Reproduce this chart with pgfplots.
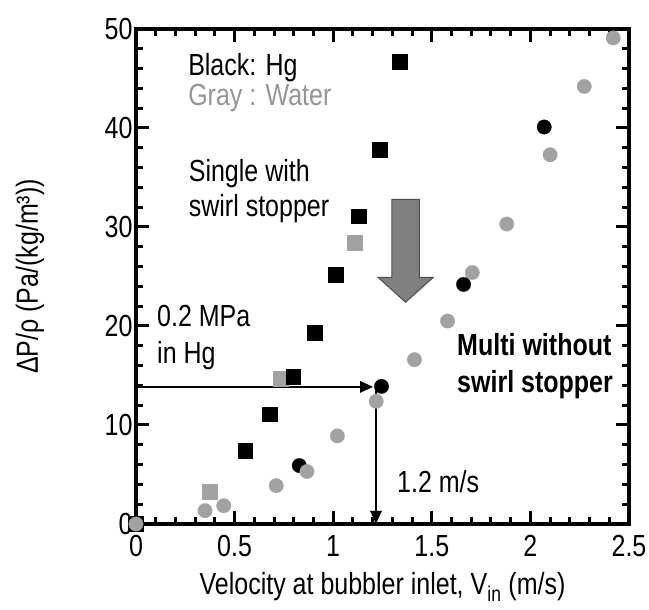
\documentclass[border=0pt]{standalone}
\usepackage{fontspec}
\setmainfont{Liberation Sans}[FakeStretch=0.82]
\usepackage{pgfplots}
\pgfplotsset{compat=1.18}
\usetikzlibrary{arrows.meta}
\definecolor{markgray}{RGB}{162,162,162}
\definecolor{textgray}{RGB}{150,150,150}
\definecolor{arrowfill}{RGB}{128,128,128}
\newcommand{\lbl}{\fontsize{30.5}{36}\selectfont}

\begin{document}
\begin{tikzpicture}
\begin{axis}[
  name=ax,
  scale only axis, width=493pt, height=495pt,
  xmin=0, xmax=2.5, ymin=0, ymax=50,
  xtick={0,0.5,1,1.5,2,2.5}, xticklabels={0,0.5,1,1.5,2,2.5},
  ytick={0,10,20,30,40,50}, yticklabels={0,10,20,30,40,50},
  minor x tick num=4, minor y tick num=4,
  tick align=inside,
  major tick length=13pt, minor tick length=7pt,
  every tick/.style={line width=3pt, black},
  axis line style={line width=4pt},
  /pgf/number format/assume math mode=true,
  ticklabel style={font=\lbl},
  xticklabel style={yshift=-8pt},
  every axis x label/.style={at={(axis description cs:0.5,0)}, anchor=base, yshift=-71pt, font=\lbl},
  every axis y label/.style={at={(axis description cs:-0.215,0.5)}, anchor=center, rotate=90, font=\lbl},
  xlabel={Velocity at bubbler inlet, V\textsubscript{in} (m/s)},
  ylabel={ΔP/ρ (Pa/(kg/m³))},
  clip=false,
]

% Water, single with swirl stopper
\addplot[only marks, mark=square*, mark size=7.4pt, mark options={fill=markgray, draw=markgray, line width=0.3pt}]
  coordinates {(0.372,3.3) (0.735,14.7) (1.107,28.45)};

% Hg, single with swirl stopper
\addplot[only marks, mark=square*, mark size=7.4pt, mark options={fill=black, draw=black, line width=0.3pt}]
  coordinates {(0,0) (0.554,7.4) (0.676,11.1) (0.797,14.85) (0.906,19.3) (1.014,25.2) (1.131,31.1) (1.237,37.8) (1.339,46.7)};

% Water, multi without swirl stopper
\addplot[only marks, mark=*, mark size=7.2pt, mark options={fill=markgray, draw=markgray, line width=0.3pt}]
  coordinates {(0,0) (0.35,1.35) (0.445,1.85) (0.711,3.87) (1.021,8.9) (1.218,12.4) (1.412,16.6) (1.58,20.5) (1.705,25.4) (1.88,30.3) (2.10,37.3) (2.273,44.2) (2.42,49.1)};

% Hg, multi without swirl stopper
\addplot[only marks, mark=*, mark size=7.2pt, mark options={fill=black, draw=black, line width=0.3pt}]
  coordinates {(0.828,5.9) (1.245,13.9) (1.661,24.2) (2.07,40.1)};

\addplot[only marks, mark=*, mark size=7.2pt, mark options={fill=markgray, draw=markgray, line width=0.3pt}]
  coordinates {(0.867,5.3)};

% annotations
\draw[-{Triangle[length=13pt,width=11pt]}, line width=2.5pt] (axis cs:0,13.85) -- (axis cs:1.203,13.85);
\draw[-{Triangle[length=13pt,width=11pt]}, line width=2.5pt] (axis cs:1.217,13.85) -- (axis cs:1.217,0);

\filldraw[fill=arrowfill, draw=black!70, line width=1pt]
  (axis cs:1.297,32.8) -- (axis cs:1.437,32.8) -- (axis cs:1.437,24.9) -- (axis cs:1.507,24.9)
  -- (axis cs:1.367,22.4) -- (axis cs:1.228,24.9) -- (axis cs:1.297,24.9) -- cycle;

\node[anchor=base west, inner sep=0, font=\lbl] at (axis cs:0.264,45.35) {Black: Hg};
\node[anchor=base west, inner sep=0, font=\lbl, text=textgray] at (axis cs:0.264,42.32) {Gray : Water};
\node[anchor=base west, inner sep=0, font=\lbl] at (axis cs:0.267,34.58) {Single with};
\node[anchor=base west, inner sep=0, font=\lbl] at (axis cs:0.267,31.04) {swirl stopper};
\node[anchor=base west, inner sep=0, font=\lbl] at (axis cs:0.1065,19.9) {0.2 MPa};
\node[anchor=base west, inner sep=0, font=\lbl] at (axis cs:0.1065,16.26) {in Hg};
\node[anchor=base west, inner sep=0, font=\lbl\bfseries] at (axis cs:1.628,17.07) {Multi without};
\node[anchor=base west, inner sep=0, font=\lbl\bfseries] at (axis cs:1.628,13.26) {swirl stopper};
\node[anchor=base west, inner sep=0, font=\lbl] at (axis cs:1.3235,3.23) {1.2 m/s};
\end{axis}
\pgfresetboundingbox
\path[use as bounding box] ([shift={(-136pt,-86pt)}]ax.south west) rectangle ([shift={(20pt,29pt)}]ax.north east);
\end{tikzpicture}
\end{document}
